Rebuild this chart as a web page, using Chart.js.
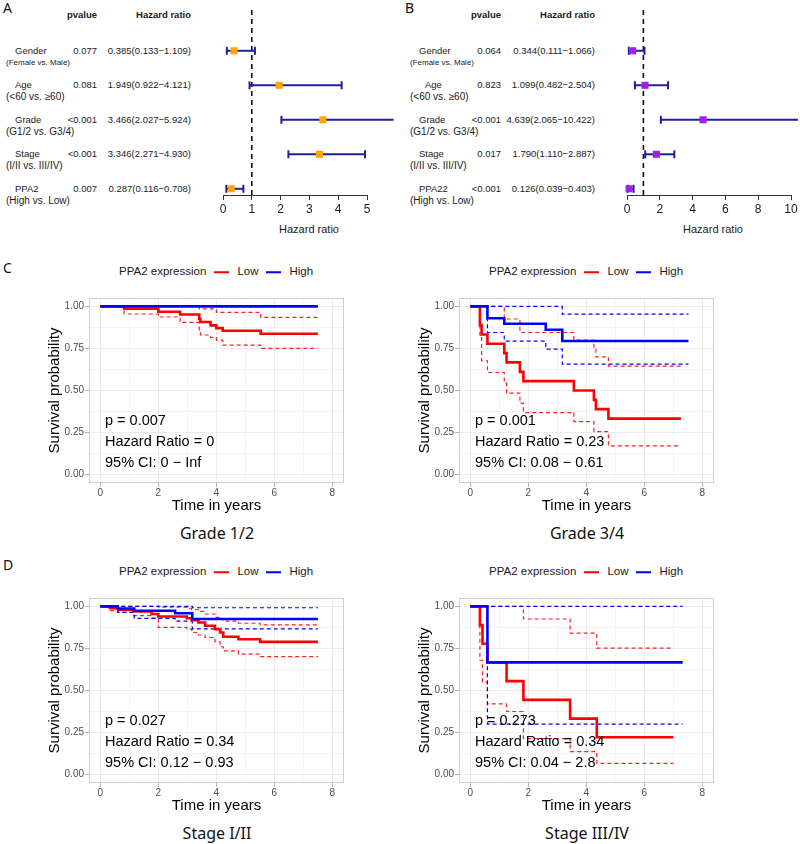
<!DOCTYPE html>
<html>
<head>
<meta charset="utf-8">
<script src="https://cdn.jsdelivr.net/npm/chart.js@4.4.0/dist/chart.umd.min.js"></script>
<style>
body { margin: 0; background: #fff; }
#fig { position: relative; width: 800px; height: 844px; overflow: hidden; font-family: "Liberation Sans", Arial, sans-serif; color: #1a1a1a; }
#fig canvas, #fig .t { position: absolute; }
.t { white-space: nowrap; line-height: 1; }
.key { display: inline-block; width: 15px; height: 2.5px; vertical-align: middle; margin: 0 8px; }
</style>
</head>
<body>
<div id="fig"></div>
<script>
// ---- forest plot A ----
const rowsA = ['Gender', 'Age', 'Grade', 'Stage', 'PPA2'];
const subA = ['(Female vs. Male)', '(<60 vs. ≥60)', '(G1/2 vs. G3/4)', '(I/II vs. III/IV)', '(High vs. Low)'];
const pA = ['0.077', '0.081', '<0.001', '<0.001', '0.007'];
const hrA = [0.385, 1.949, 3.466, 3.346, 0.287];
const loA = [0.133, 0.922, 2.027, 2.271, 0.116];
const hiA = [1.109, 4.121, 5.924, 4.930, 0.708];

// ---- forest plot B ----
const rowsB = ['Gender', 'Age', 'Grade', 'Stage', 'PPA22'];
const subB = ['(Female vs. Male)', '(<60 vs. ≥60)', '(G1/2 vs. G3/4)', '(I/II vs. III/IV)', '(High vs. Low)'];
const pB = ['0.064', '0.823', '<0.001', '0.017', '<0.001'];
const hrB = [0.344, 1.099, 4.639, 1.790, 0.126];
const loB = [0.111, 0.482, 2.065, 1.110, 0.039];
const hiB = [1.066, 2.504, 10.422, 2.887, 0.403];

// ---- KM: Grade 1/2 ----
const g12LowT = [0, 0.82, 2.0, 2.75, 3.41, 3.45, 3.8, 4.0, 4.22, 5.53, 7.5];
const g12LowS = [1, 0.986, 0.968, 0.952, 0.925, 0.907, 0.887, 0.871, 0.855, 0.837, 0.837];
const g12LowU = [1, 1, 1, 1, 0.985, 0.985, 0.985, 0.965, 0.965, 0.935, 0.935];
const g12LowL = [1, 0.955, 0.937, 0.905, 0.845, 0.83, 0.815, 0.8, 0.77, 0.75, 0.75];
const g12HighT = [0, 7.5];
const g12HighS = [1, 1];
const g12HighU = [1, 1];
const g12HighL = [1, 1];

// ---- KM: Grade 3/4 ----
const g34LowT = [0, 0.33, 0.39, 0.59, 1.17, 1.25, 1.71, 1.83, 3.57, 4.26, 4.33, 4.76, 7.26];
const g34LowS = [1, 0.889, 0.833, 0.778, 0.722, 0.667, 0.611, 0.556, 0.5, 0.444, 0.389, 0.333, 0.333];
const g34LowU = [1, 1, 1, 1, 0.925, 0.925, 0.845, 0.845, 0.8, 0.75, 0.7, 0.645, 0.645];
const g34LowL = [1, 0.82, 0.677, 0.607, 0.544, 0.484, 0.425, 0.369, 0.315, 0.256, 0.256, 0.171, 0.171];
const g34HighT = [0, 0.59, 1.17, 2.6, 3.17, 7.52];
const g34HighS = [1, 0.93, 0.897, 0.861, 0.794, 0.794];
const g34HighU = [1, 1, 1, 1, 0.954, 0.954];
const g34HighL = [1, 0.845, 0.794, 0.746, 0.657, 0.657];

// ---- KM: Stage I/II ----
const s12LowT = [0, 0.33, 0.62, 1.14, 1.77, 2.0, 2.98, 3.15, 3.38, 3.61, 3.95, 4.13, 4.24, 4.76, 5.51, 7.5];
const s12LowS = [1, 0.99, 0.98, 0.97, 0.955, 0.94, 0.93, 0.918, 0.904, 0.885, 0.865, 0.845, 0.82, 0.805, 0.789, 0.789];
const s12LowU = [1, 1, 1, 1, 1, 0.995, 0.988, 0.98, 0.97, 0.955, 0.935, 0.925, 0.912, 0.9, 0.89, 0.89];
const s12LowL = [1, 0.975, 0.965, 0.945, 0.93, 0.875, 0.865, 0.845, 0.83, 0.815, 0.79, 0.76, 0.736, 0.716, 0.702, 0.702];
const s12HighT = [0, 0.6, 1.17, 2.58, 3.17, 7.5];
const s12HighS = [1, 0.988, 0.974, 0.959, 0.925, 0.925];
const s12HighU = [1, 1, 1, 1, 0.992, 0.992];
const s12HighL = [1, 0.965, 0.929, 0.912, 0.866, 0.866];

// ---- KM: Stage III/IV ----
const s34LowT = [0, 0.33, 0.42, 0.59, 1.25, 1.83, 3.44, 4.36, 7.0];
const s34LowS = [1, 0.889, 0.778, 0.667, 0.556, 0.444, 0.333, 0.222, 0.222];
const s34LowU = [1, 1, 1, 1, 1, 0.925, 0.841, 0.752, 0.752];
const s34LowL = [1, 0.68, 0.55, 0.42, 0.375, 0.214, 0.137, 0.067, 0.067];
const s34HighT = [0, 0.59, 7.32];
const s34HighS = [1, 0.667, 0.667];
const s34HighU = [1, 1, 1];
const s34HighL = [1, 0.3, 0.3];

const FONT = '"Liberation Sans", Arial, sans-serif';
const TITLE_FONT = '"Noto Sans", "Open Sans", sans-serif';
const NAVY = '#1f1f9a';
const FY_MIN = 0.82, FY_MAX = 6.24;   // forest row axis
Chart.defaults.font.family = FONT;

const fig = document.getElementById('fig');

function txt(x, y, s, css, anchor) {
  const d = document.createElement('div');
  d.className = 't';
  d.textContent = s;
  d.style.left = x + 'px';
  d.style.top = y + 'px';
  Object.assign(d.style, css || {});
  const tx = anchor === 'right' ? '-100%' : anchor === 'center' ? '-50%' : '0';
  d.style.transform = 'translate(' + tx + ',-50%)';
  fig.appendChild(d);
  return d;
}

function addCanvas(left, top, w, h) {
  const cv = document.createElement('canvas');
  cv.width = w; cv.height = h;
  cv.style.left = left + 'px';
  cv.style.top = top + 'px';
  fig.appendChild(cv);
  return cv;
}

function fmt(v) { return v.toFixed(3); }

function forest(o) {
  const n = o.hr.length;
  const rowY = o.hr.map((_, i) => n - i);
  const yPix = v => 8 + (FY_MAX - v) / (FY_MAX - FY_MIN) * 187;
  const ox = o.ox;

  txt(ox + 97, 15, 'pvalue', { fontSize: '9.5px', fontWeight: 'bold' }, 'right');
  txt(ox + 191, 15, 'Hazard ratio', { fontSize: '9.5px', fontWeight: 'bold' }, 'right');
  o.rows.forEach((r, i) => {
    const y = yPix(rowY[i]);
    txt(ox + 15 + (o.indent[i] || 0), y, r, { fontSize: '9.5px' });
    txt(ox + 6, y + 12, o.sub[i], { fontSize: i === 0 ? '8px' : '10px' });
    txt(ox + 97, y, o.p[i], { fontSize: '9.5px' }, 'right');
    txt(ox + 191, y, fmt(o.hr[i]) + '(' + fmt(o.lo[i]) + '−' + fmt(o.hi[i]) + ')', { fontSize: '9.5px' }, 'right');
  });
  txt(o.titleX, 229, 'Hazard ratio', { fontSize: '11px' }, 'center');

  const ds = [];
  ds.push({
    data: o.hr.map((h, i) => ({ x: h, y: rowY[i] })),
    pointStyle: 'rect', pointRadius: 5, pointBackgroundColor: o.color, pointBorderWidth: 0, clip: false
  });
  o.hr.forEach((h, i) => {
    ds.push({
      data: [{ x: o.lo[i], y: rowY[i] }, { x: o.hi[i], y: rowY[i] }],
      showLine: true, borderColor: NAVY, borderWidth: 2,
      pointStyle: 'line', pointRotation: 90, pointRadius: 4,
      pointBorderWidth: 2, pointBorderColor: NAVY, clip: false
    });
  });
  ds.push({
    data: [{ x: 1, y: FY_MIN }, { x: 1, y: FY_MAX }],
    showLine: true, borderColor: '#111', borderWidth: 1.6, borderDash: [5, 4], pointRadius: 0, clip: false
  });

  const w = o.canvasW;
  new Chart(addCanvas(ox + 200, 0, w, 240), {
    type: 'scatter',
    data: { datasets: ds },
    options: {
      responsive: false, animation: false,
      layout: { padding: { left: 23, right: w - 23 - o.plotW, top: 8, bottom: 25 } },
      plugins: { legend: { display: false }, tooltip: { enabled: false } },
      scales: {
        x: {
          type: 'linear', min: 0, max: o.xmax,
          ticks: { stepSize: o.step, color: '#1a1a1a', font: { size: 12 }, padding: 2 },
          grid: { drawOnChartArea: false, tickLength: 5, tickColor: '#333', tickWidth: 1 },
          border: { display: true, color: '#333', width: 1 },
          afterFit: s => { s.height = 20; }
        },
        y: { display: false, min: FY_MIN, max: FY_MAX }
      }
    }
  });
}

forest({ ox: 0, rows: rowsA, sub: subA, p: pA, hr: hrA, lo: loA, hi: hiA, indent: [],
  color: '#ffa500', xmax: 5, step: 1, plotW: 144, canvasW: 200, titleX: 309 });
forest({ ox: 404, rows: rowsB, sub: subB, p: pB, hr: hrB, lo: loB, hi: hiB, indent: [0, 6, 0, 0, 0],
  color: '#a020f0', xmax: 10, step: 2, plotW: 164, canvasW: 196, titleX: 713 });

// ---- Kaplan-Meier panels ----
const panelBorder = {
  id: 'panelBorder',
  afterDraw(chart) {
    const a = chart.chartArea, c = chart.ctx;
    c.save();
    c.strokeStyle = '#cfcfcf';
    c.lineWidth = 1;
    c.strokeRect(a.left + 0.5, a.top + 0.5, a.right - a.left - 1, a.bottom - a.top - 1);
    c.restore();
  }
};

const pts = (t, s) => t.map((v, i) => ({ x: v, y: s[i] }));
const isMajorX = v => Math.abs(v % 2) < 1e-6;
const isMajorY = v => Math.abs(v * 4 - Math.round(v * 4)) < 1e-6;

function curve(t, s, color, dashed) {
  return {
    data: pts(t, s), showLine: true, stepped: true, pointRadius: 0,
    borderColor: color, borderWidth: dashed ? 1.2 : 2.6,
    borderDash: dashed ? [4, 3] : [], fill: false
  };
}

function km(o) {
  const ox = o.ox, oy = o.oy;
  const ds = [
    curve(o.hT, o.hS, '#0000ff', false),
    curve(o.lT, o.lS, '#ff0000', false),
    curve(o.hT, o.hU, '#0000ff', true),
    curve(o.hT, o.hL, '#0000ff', true),
    curve(o.lT, o.lU, '#ff2020', true),
    curve(o.lT, o.lL, '#ff2020', true)
  ];
  const gridCfg = (major) => ({
    color: '#ebebeb',
    lineWidth: c => (c.tick && major(c.tick.value)) ? 1 : 0.5,
    tickLength: 4,
    tickColor: c => (c.tick && major(c.tick.value)) ? '#b3b3b3' : 'rgba(0,0,0,0)'
  });
  new Chart(addCanvas(40 + ox, 290 + oy, 310, 230), {
    type: 'scatter',
    data: { datasets: ds },
    options: {
      responsive: false, animation: false,
      layout: { padding: { left: 0, right: 6, top: 8, bottom: 2 } },
      plugins: { legend: { display: false }, tooltip: { enabled: false } },
      scales: {
        x: {
          type: 'linear', min: -0.39, max: 8.4,
          ticks: { stepSize: 1, includeBounds: false, autoSkip: false, maxRotation: 0,
            color: '#4d4d4d', font: { size: 10 }, padding: 0,
            callback: v => isMajorX(v) ? String(v) : '' },
          grid: gridCfg(isMajorX),
          border: { display: false },
          title: { display: true, text: 'Time in years', color: '#000', font: { size: 15 }, padding: { top: 0, bottom: 3 } },
          afterFit: s => { s.height = 35; }
        },
        y: {
          type: 'linear', min: -0.05, max: 1.05,
          ticks: { stepSize: 0.125, includeBounds: false, autoSkip: false,
            color: '#4d4d4d', font: { size: 10 }, padding: 1,
            callback: v => isMajorY(v) ? v.toFixed(2) : '' },
          grid: gridCfg(isMajorY),
          border: { display: false },
          title: { display: true, text: 'Survival probability', color: '#000', font: { size: 15 }, padding: { top: 6, bottom: 0 } },
          afterFit: s => { s.width = 49; }
        }
      }
    },
    plugins: [panelBorder]
  });

  // legend
  const lg = txt(119 + ox, 272 + oy, '', { fontSize: '11.5px', color: '#1a1a1a' });
  lg.innerHTML = 'PPA2 expression<span class="key" style="background:#ff0000"></span>Low<span class="key" style="background:#0000ff"></span>High';
  // statistics
  o.stats.forEach((s, i) => txt(105 + ox, 420 + oy + i * 21, s, { fontSize: '14.5px', color: '#000' }));
  // subtitle
  txt(217 + ox, 533 + oy, o.title, { fontSize: '16px', fontFamily: TITLE_FONT, color: '#111' }, 'center');
}

km({ ox: 0, oy: 0, title: 'Grade 1/2',
  lT: g12LowT, lS: g12LowS, lU: g12LowU, lL: g12LowL,
  hT: g12HighT, hS: g12HighS, hU: g12HighU, hL: g12HighL,
  stats: ['p = 0.007', 'Hazard Ratio = 0', '95% CI: 0 − Inf'] });
km({ ox: 370, oy: 0, title: 'Grade 3/4',
  lT: g34LowT, lS: g34LowS, lU: g34LowU, lL: g34LowL,
  hT: g34HighT, hS: g34HighS, hU: g34HighU, hL: g34HighL,
  stats: ['p = 0.001', 'Hazard Ratio = 0.23', '95% CI: 0.08 − 0.61'] });
km({ ox: 0, oy: 300, title: 'Stage I/II',
  lT: s12LowT, lS: s12LowS, lU: s12LowU, lL: s12LowL,
  hT: s12HighT, hS: s12HighS, hU: s12HighU, hL: s12HighL,
  stats: ['p = 0.027', 'Hazard Ratio = 0.34', '95% CI: 0.12 − 0.93'] });
km({ ox: 370, oy: 300, title: 'Stage III/IV',
  lT: s34LowT, lS: s34LowS, lU: s34LowU, lL: s34LowL,
  hT: s34HighT, hS: s34HighS, hU: s34HighU, hL: s34HighL,
  stats: ['p = 0.273', 'Hazard Ratio = 0.34', '95% CI: 0.04 − 2.8'] });

// panel letters
[['A', 3, 8], ['B', 405, 8], ['C', 3, 268], ['D', 3, 565]].forEach(([s, x, y]) =>
  txt(x, y, s, { fontSize: '14px', fontFamily: TITLE_FONT, color: '#111' }));
</script>
</body>
</html>
